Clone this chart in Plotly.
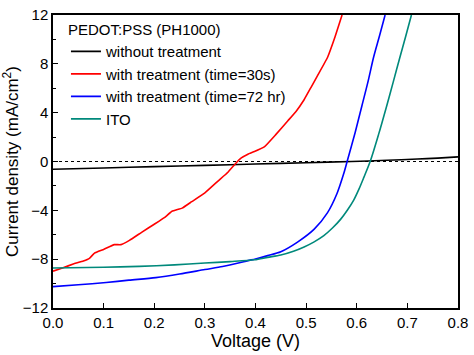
import plotly.graph_objects as go

v_black = [0, 0.1, 0.2, 0.3, 0.4, 0.5, 0.59, 0.66, 0.72, 0.76, 0.8]
j_black = [-0.64, -0.53, -0.42, -0.32, -0.21, -0.1, 0.0, 0.1, 0.2, 0.28, 0.38]

v_red = [0, 0.02, 0.04, 0.06, 0.072, 0.082, 0.1, 0.121, 0.134, 0.151, 0.175, 0.2, 0.22,
         0.235, 0.255, 0.274, 0.30, 0.327, 0.345, 0.362, 0.372, 0.385, 0.398, 0.418,
         0.44, 0.464, 0.48, 0.496, 0.51, 0.522, 0.542, 0.557, 0.571]
j_red = [-8.98, -8.7, -8.4, -8.15, -7.93, -7.5, -7.2, -6.81, -6.81, -6.46, -5.8, -5.14, -4.6,
         -4.08, -3.82, -3.29, -2.57, -1.56, -0.9, -0.1, 0.29, 0.6, 0.82, 1.22,
         2.2, 3.34, 4.1, 5.06, 6.1, 7.0, 8.5, 10.2, 12.0]

v_blue = [0, 0.05, 0.105, 0.15, 0.203, 0.25, 0.30, 0.335, 0.366, 0.385, 0.40, 0.424, 0.45,
          0.483, 0.516, 0.542, 0.561, 0.574, 0.581, 0.597, 0.610, 0.622, 0.633, 0.645, 0.656]
j_blue = [-10.25, -10.1, -9.91, -9.72, -9.51, -9.22, -8.85, -8.6, -8.32, -8.12, -7.98, -7.71,
          -7.39, -6.6, -5.54, -4.21, -2.62, -1.03, 0.0, 2.4, 4.53, 6.5, 8.5, 10.3, 12.0]

v_ito = [0, 0.1, 0.17, 0.24, 0.30, 0.35, 0.398, 0.424, 0.45, 0.475, 0.496, 0.515, 0.535,
         0.552, 0.568, 0.582, 0.594, 0.605, 0.614, 0.6265, 0.643, 0.659, 0.672, 0.685,
         0.697, 0.708]
j_ito = [-8.72, -8.66, -8.59, -8.47, -8.32, -8.2, -8.05, -7.85, -7.66, -7.35, -7.0, -6.6,
         -6.07, -5.45, -4.74, -3.95, -3.16, -2.2, -1.3, 0.0, 2.2, 4.53, 6.5, 8.5, 10.3, 12.0]

x_ticks = [0, 0.1, 0.2, 0.3, 0.4, 0.5, 0.6, 0.7, 0.8]
x_ticklabels = ["0.0", "0.1", "0.2", "0.3", "0.4", "0.5", "0.6", "0.7", "0.8"]
y_ticks = [-12, -8, -4, 0, 4, 8, 12]

series = [
    ("without treatment", v_black, j_black, "#000000", 0.8),
    ("with treatment (time=30s)", v_red, j_red, "#ff0000", 0.3),
    ("with treatment (time=72 hr)", v_blue, j_blue, "#0000ff", 0.8),
    ("ITO", v_ito, j_ito, "#00897b", 0.8),
]

fig = go.Figure()
for name, vx, jy, col, smooth in series:
    fig.add_trace(go.Scatter(x=vx, y=jy, mode="lines", name=name,
                             line=dict(color=col, width=1.6, shape="spline",
                                       smoothing=smooth)))

fig.add_hline(y=0, line=dict(color="#000000", width=1.2, dash="dot"), layer="below")

font = "Liberation Sans, Arial, sans-serif"
fig.update_layout(
    width=474, height=355,
    margin=dict(l=53, r=12, t=6, b=47),
    paper_bgcolor="white", plot_bgcolor="white",
    font=dict(family=font, color="#000000", size=14),
    showlegend=True,
    legend=dict(
        x=0.032, y=0.998, xanchor="left", yanchor="top",
        bgcolor="rgba(0,0,0,0)", borderwidth=0,
        font=dict(size=15, family=font),
        title=dict(text="PEDOT:PSS (PH1000)", font=dict(size=15, family=font)),
        itemwidth=30, tracegroupgap=0,
    ),
    xaxis=dict(
        range=[0, 0.8], tickvals=x_ticks, ticktext=x_ticklabels,
        ticks="inside", ticklen=5, tickwidth=1.2, tickcolor="#000",
        showline=True, linecolor="#000", linewidth=1.5, mirror=True,
        showgrid=False, zeroline=False, ticklabeloverflow="allow",
        tickfont=dict(size=15),
        title=dict(text="Voltage (V)", font=dict(size=18), standoff=2),
    ),
    yaxis=dict(
        range=[-12, 12], tickvals=y_ticks,
        ticks="inside", ticklen=5, tickwidth=1.2, tickcolor="#000",
        minor=dict(dtick=2, tick0=0, ticks="inside", ticklen=3, tickcolor="#000", showgrid=False),
        showline=True, linecolor="#000", linewidth=1.5, mirror=True,
        showgrid=False, zeroline=False, ticklabeloverflow="allow",
        tickfont=dict(size=15),
        title=dict(text="Current density (mA/cm<sup>2</sup>)", font=dict(size=17), standoff=2),
    ),
)

fig.write_html("out.html", config={"displayModeBar": False},
               post_script="document.body.style.margin='0px';")
